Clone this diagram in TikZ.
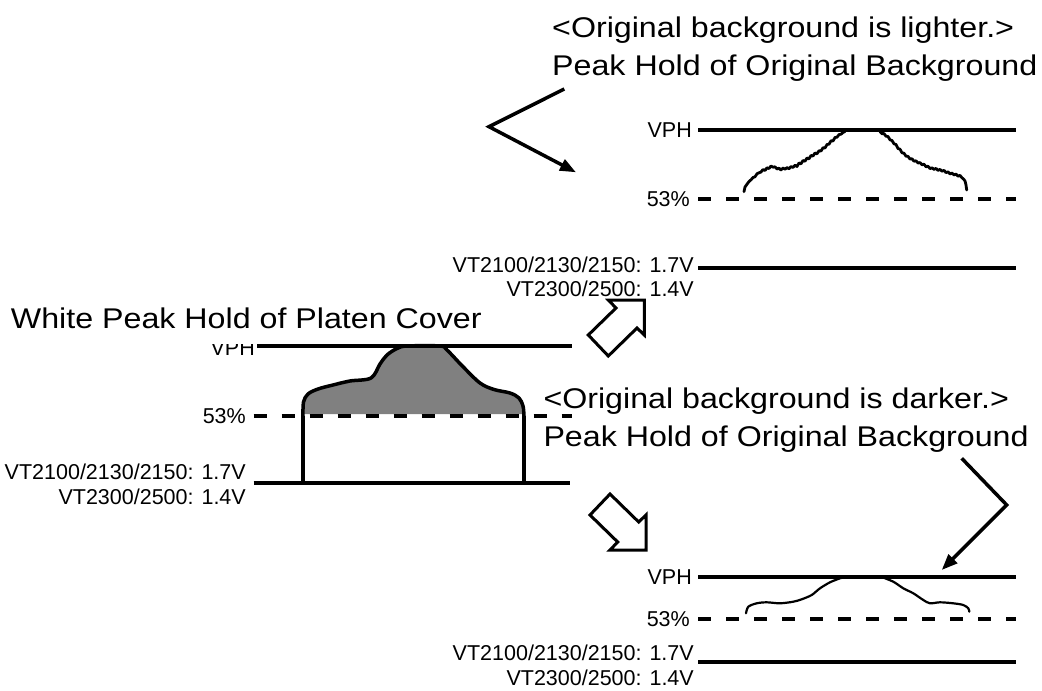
\documentclass[tikz,border=0pt]{standalone}
\usepackage{fontspec}
\setmainfont{Liberation Sans}
\newfontfamily\widefont[FakeStretch=1.13]{Liberation Sans}
\usetikzlibrary{arrows.meta}
\begin{document}
\begin{tikzpicture}[x=1pt,y=-1pt,
  big/.style={font=\widefont\fontsize{28.5}{34}\selectfont, inner sep=0pt, anchor=base west},
  small/.style={font=\fontsize{21.5}{25}\selectfont, inner sep=0pt, anchor=base east},
  level/.style={line width=3.5pt},
  dashlevel/.style={line width=3.5pt, dash pattern=on 13pt off 15pt},
  pointer/.style={line width=3.5pt, line join=miter, -{Triangle[length=16pt,width=12pt]}},
  blockarrow/.style={draw, line width=3pt, fill=white, line join=miter},
  trace/.style={line width=2.8pt, line join=round, line cap=round}]
\useasboundingbox (0,0) rectangle (1042,691);

% ---------------- left graph ----------------
\node[small] (lvph) at (255,355.5) {VPH};
\node[big, fill=white, text depth=15.5pt] (ltitle) at (10.7,328.3) {White Peak Hold of Platen Cover};
\coordinate (lvphA) at (257,346);   \coordinate (lvphB) at (572,346);
\coordinate (l53A) at (253.5,416);  \coordinate (l53B) at (572,416);
\coordinate (lvtA) at (253.5,483);  \coordinate (lvtB) at (570,483);
\node[small] (l53) at (246,423.5) {53\%};
\node[small] (lvt1) at (246,479) {VT2100/2130/2150: 1.7V};
\node[small] (lvt2) at (246,504) {VT2300/2500: 1.4V};

\fill[gray] (303,414) -- plot[smooth, tension=0.55] coordinates {(303,405) (308,394) (318,389) (333,385) (350,381) (371,378) (380,364) (387,355) (397,348.5) (407,346) (440,346) (447,350) (463,366.7) (480,383) (494,389.5) (510,393) (519,398) (523,406)} -- (524,414) -- cycle;
\draw[level] (lvphA) -- (lvphB);
\draw[dashlevel] (l53A) -- (l53B);
\draw[level] (lvtA) -- (lvtB);
\draw[level, line join=round] plot[smooth, tension=0.55] coordinates {(303,416) (303.5,402) (308,394) (318,389) (333,385) (350,381) (371,378) (380,364) (387,355) (397,348.5) (407,346) (440,346) (447,350) (463,366.7) (480,383) (494,389.5) (510,393) (519,398) (523,406) (524,416)};
\coordinate (lboxA) at (303,416); \coordinate (lboxB) at (303,483);
\coordinate (lboxC) at (524,416); \coordinate (lboxD) at (524,483);
\draw[level] (lboxA) -- (lboxB);
\draw[level] (lboxC) -- (lboxD);

% ---------------- block arrows ----------------
\draw[blockarrow] (644.3,300) -- (608.3,300) -- (616,308) -- (588.3,335) -- (608.3,356) -- (637,328) -- (644.3,335) -- cycle;
\draw[blockarrow] (646,550) -- (646,515) -- (638.7,522) -- (610,494) -- (590,515) -- (617.7,542) -- (610,550) -- cycle;

% ---------------- top right graph ----------------
\node[big] (ttext1) at (552,37) {<Original background is lighter.>};
\node[big] (ttext2) at (552,75) {Peak Hold of Original Background};
\coordinate (tpA) at (564.3,89); \coordinate (tpB) at (489,126.7); \coordinate (tpC) at (576,172.3);
\draw[pointer] (tpA) -- (tpB) -- (tpC);

\node[small] (tvph) at (692,137.5) {VPH};
\node[small] (t53) at (690,206) {53\%};
\node[small] (tvt1) at (694,272) {VT2100/2130/2150: 1.7V};
\node[small] (tvt2) at (694,296) {VT2300/2500: 1.4V};
\coordinate (tvphA) at (698,130); \coordinate (tvphB) at (1016,130);
\coordinate (t53A) at (698,199);  \coordinate (t53B) at (1016,199);
\coordinate (tvtA) at (698,268);  \coordinate (tvtB) at (1016,268);
\draw[level] (tvphA) -- (tvphB);
\draw[dashlevel] (t53A) -- (t53B);
\draw[level] (tvtA) -- (tvtB);
\draw[trace] (744,191.7) -- (745,187) -- (747.5,183.5) -- (749,181.5) -- (751,179.8) -- (753,177.5) -- (755,176.8) -- (757,173.8) -- (759,172.8) -- (761,172) -- (763,169.5) -- (765,170.5) -- (767,167.8) -- (769,168.5) -- (771,166) -- (773,167.2) -- (775,166.8) -- (777,169) -- (779,168.2) -- (781,170) -- (783,168) -- (785,169.2) -- (787,167.6) -- (789,168.8) -- (791,166.5) -- (793,167.5) -- (795,165.2) -- (797,166.5) -- (799,163) -- (801,163.8) -- (803,160.5) -- (805,161.2) -- (807,158) -- (809,158.8) -- (811,155.5) -- (813,156) -- (815,153) -- (817,153.8) -- (819,150.8) -- (821,151) -- (823,147.8) -- (825,148) -- (827,144.5) -- (829,144.2) -- (831,140.8) -- (833,141) -- (835,137.5) -- (837,137.2) -- (839,134.6) -- (841,134.2) -- (843,132.5) -- (845,131.5);
\draw[trace] (880,131.5) -- (882,133.8) -- (884,133.5) -- (886,136.2) -- (888,136.5) -- (890,139.8) -- (892,140.5) -- (894,143.8) -- (896,144.5) -- (898,148.5) -- (900,149.2) -- (902,152.8) -- (904,153.2) -- (906,156.2) -- (908,156.4) -- (910,159) -- (912,158.8) -- (914,161.2) -- (916,160.8) -- (918,163) -- (920,162.6) -- (922,164.8) -- (924,164.2) -- (926,166.8) -- (928,166.2) -- (930,168.6) -- (932,167.8) -- (934,169.4) -- (936,168.4) -- (938,170.4) -- (940,169.4) -- (942,171.2) -- (944,170.4) -- (946,172.6) -- (948,171.8) -- (950,174) -- (952,173) -- (954,175) -- (956,174) -- (958,176.2) -- (960,175.4) -- (962,177.8) -- (963.5,179) -- (965,181) -- (966,185) -- (966.7,190);

% ---------------- bottom right graph ----------------
\node[big] (btext1) at (543.3,408) {<Original background is darker.>};
\node[big] (btext2) at (543.3,446.7) {Peak Hold of Original Background};
\coordinate (bpA) at (961.7,458.3); \coordinate (bpB) at (1006.7,505); \coordinate (bpC) at (941.7,570);
\draw[pointer] (bpA) -- (bpB) -- (bpC);

\node[small] (bvph) at (692,584.5) {VPH};
\node[small] (b53) at (690,626) {53\%};
\node[small] (bvt1) at (694,660) {VT2100/2130/2150: 1.7V};
\node[small] (bvt2) at (694,685) {VT2300/2500: 1.4V};
\coordinate (bvphA) at (698,577); \coordinate (bvphB) at (1016,577);
\coordinate (b53A) at (698,619);  \coordinate (b53B) at (1016,619);
\coordinate (bvtA) at (698,662);  \coordinate (bvtB) at (1016,662);
\draw[level] (bvphA) -- (bvphB);
\draw[dashlevel] (b53A) -- (b53B);
\draw[level] (bvtA) -- (bvtB);
\draw[trace, line width=2.2pt] plot[smooth, tension=0.5] coordinates {(746,613.3) (748.3,606.7) (756.7,603.3) (766.7,602.3) (780,603.3) (793.3,601.7) (801.7,599.3) (811.7,595) (820,588.3) (830,582.3) (840,578.3) (845,577)};
\draw[trace, line width=2.2pt] plot[smooth, tension=0.5] coordinates {(881.7,577) (893.3,581.7) (903.3,588.3) (913.3,593.3) (923.3,600) (930,603.3) (940,602.3) (953.3,603.3) (963.3,605) (968.3,608.3) (969.3,611.7)};
\end{tikzpicture}
\end{document}
